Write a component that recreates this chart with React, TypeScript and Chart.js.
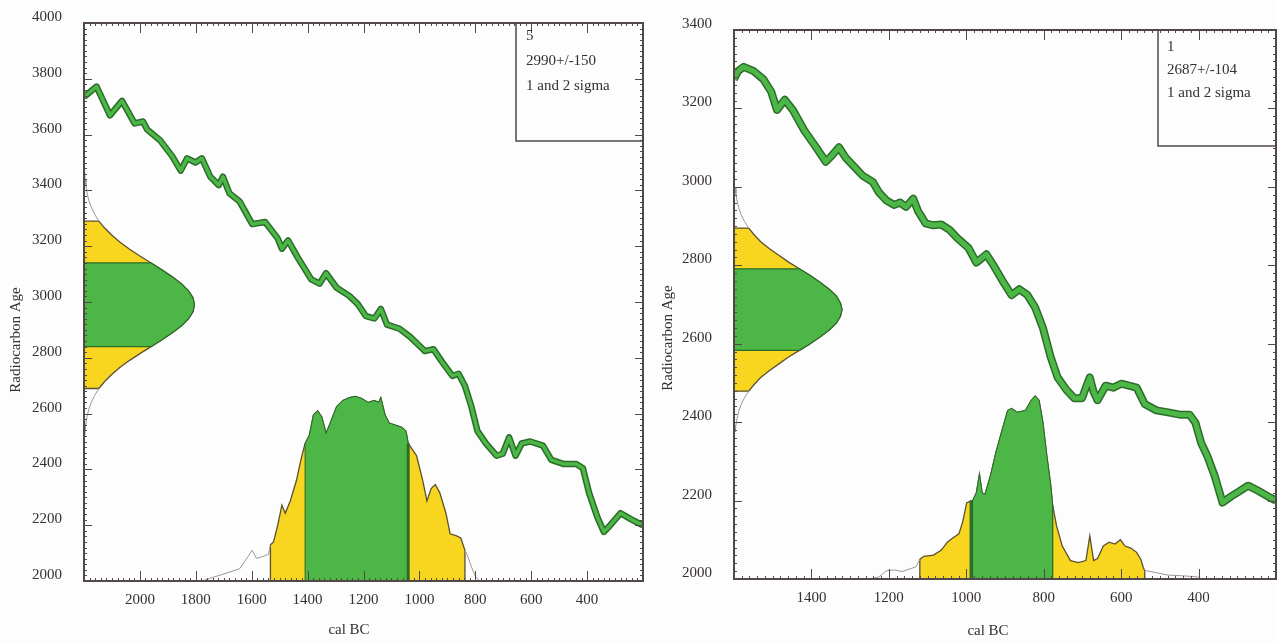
import React, { useEffect, useRef } from "react";
import { Chart, registerables } from "chart.js";

Chart.register(...registerables);

const FONT_FAMILY = "'Liberation Serif', 'Times New Roman', serif";
const TEXT_COLOR = "#363030";
const FRAME_COLOR = "#514848";
const GREEN = "#4cb646";
const DARK_GREEN = "#2b6c2b";
const YELLOW = "#f8d51e";
const OUTLINE = "#5a5032";
const GRAY = "#9c9696";

// ---------- Left panel: sample 5, 2990 +/- 150 ----------
const leftLegend = ["5", "2990+/-150", "1 and 2 sigma"];
const leftXLabels = [2000, 1800, 1600, 1400, 1200, 1000, 800, 600, 400];
const leftYLabels = [2000, 2200, 2400, 2600, 2800, 3000, 3200, 3400, 3600, 3800, 4000];

const leftCurveYears = [2200, 2155, 2107, 2064, 2019, 1989, 1974, 1929, 1884, 1854, 1831, 1801, 1778, 1748, 1718, 1703, 1680, 1643, 1598, 1552, 1507, 1492, 1470, 1432, 1387, 1357, 1334, 1296, 1251, 1221, 1191, 1161, 1138, 1116, 1071, 1033, 1003, 980, 950, 920, 882, 860, 837, 814, 792, 762, 724, 702, 679, 656, 634, 604, 558, 528, 483, 438, 415, 393, 363, 340, 318, 280, 242, 200];
const leftCurveAges = [3735, 3772, 3669, 3721, 3640, 3647, 3618, 3581, 3522, 3471, 3515, 3500, 3515, 3449, 3419, 3449, 3390, 3360, 3279, 3287, 3228, 3191, 3221, 3154, 3081, 3066, 3103, 3051, 3022, 2993, 2949, 2941, 2975, 2919, 2904, 2875, 2846, 2824, 2831, 2787, 2735, 2743, 2699, 2625, 2537, 2493, 2449, 2456, 2515, 2449, 2493, 2500, 2485, 2434, 2419, 2419, 2404, 2316, 2228, 2176, 2199, 2243, 2221, 2199];

const leftGaussAges = [3465, 3440, 3415, 3390, 3365, 3340, 3315, 3290, 3265, 3240, 3215, 3190, 3165, 3140, 3115, 3090, 3065, 3040, 3015, 2990, 2965, 2940, 2915, 2890, 2865, 2840, 2815, 2790, 2765, 2740, 2715, 2690, 2665, 2640, 2615, 2590, 2565, 2540, 2515];
const leftGaussX = [2197, 2196, 2193, 2189, 2183, 2174, 2162, 2147, 2126, 2101, 2072, 2038, 2000, 1960, 1921, 1884, 1851, 1826, 1810, 1805, 1810, 1826, 1851, 1884, 1921, 1960, 2000, 2038, 2072, 2101, 2126, 2147, 2162, 2174, 2183, 2189, 2193, 2196, 2197];
const leftGauss2Range = [2690, 3290];
const leftGauss1Range = [2840, 3140];

const leftProbYears = [1778, 1748, 1688, 1643, 1613, 1598, 1583, 1560, 1540, 1533, 1522, 1507, 1492, 1480, 1462, 1440, 1424, 1409, 1394, 1379, 1364, 1349, 1334, 1319, 1296, 1274, 1251, 1229, 1206, 1183, 1161, 1146, 1138, 1123, 1108, 1086, 1063, 1048, 1040, 1010, 988, 973, 958, 943, 927, 905, 890, 867, 852, 837, 830, 814, 799, 784];
const leftProbValues = [2000, 2010, 2029, 2044, 2088, 2110, 2081, 2088, 2096, 2130, 2140, 2199, 2272, 2243, 2287, 2360, 2434, 2493, 2522, 2596, 2610, 2588, 2529, 2566, 2625, 2647, 2657, 2662, 2654, 2640, 2647, 2640, 2657, 2596, 2566, 2559, 2551, 2537, 2493, 2449, 2360, 2287, 2331, 2346, 2316, 2243, 2169, 2162, 2154, 2110, 2096, 2051, 2015, 2000];
const leftProb2Range = [1533, 837];
const leftProb1Range = [1409, 1040];
const leftMarkLine = [1040, 2493];

// ---------- Right panel: sample 1, 2687 +/- 104 ----------
const rightLegend = ["1", "2687+/-104", "1 and 2 sigma"];
const rightXLabels = [1400, 1200, 1000, 800, 600, 400];
const rightYLabels = [2000, 2200, 2400, 2600, 2800, 3000, 3200, 3400];

const rightCurveYears = [1600, 1590, 1575, 1549, 1524, 1504, 1489, 1469, 1448, 1418, 1388, 1363, 1347, 1329, 1312, 1287, 1267, 1241, 1226, 1206, 1186, 1171, 1156, 1137, 1125, 1105, 1085, 1065, 1044, 1024, 994, 974, 948, 928, 903, 883, 863, 842, 822, 802, 782, 764, 741, 721, 701, 691, 681, 671, 661, 640, 620, 600, 580, 560, 539, 509, 479, 448, 423, 408, 393, 378, 358, 338, 317, 297, 272, 246, 216, 200];
const rightCurveAges = [3274, 3295, 3306, 3295, 3274, 3243, 3196, 3222, 3196, 3143, 3101, 3064, 3080, 3101, 3075, 3049, 3028, 3012, 2986, 2965, 2954, 2960, 2949, 2970, 2939, 2907, 2902, 2904, 2891, 2870, 2844, 2807, 2828, 2797, 2755, 2724, 2739, 2724, 2692, 2640, 2566, 2514, 2482, 2461, 2461, 2488, 2514, 2477, 2456, 2493, 2488, 2498, 2493, 2488, 2446, 2430, 2425, 2419, 2419, 2398, 2346, 2315, 2262, 2195, 2210, 2222, 2238, 2225, 2208, 2200];

const rightGaussAges = [2999, 2982, 2964, 2947, 2930, 2912, 2895, 2878, 2860, 2843, 2826, 2808, 2791, 2774, 2756, 2739, 2722, 2704, 2687, 2670, 2652, 2635, 2618, 2600, 2583, 2566, 2548, 2531, 2514, 2496, 2479, 2462, 2444, 2427, 2410, 2392, 2375];
const rightGaussX = [1597, 1595, 1592, 1588, 1582, 1573, 1562, 1548, 1531, 1509, 1485, 1459, 1431, 1403, 1377, 1354, 1336, 1325, 1321, 1325, 1336, 1354, 1377, 1403, 1431, 1459, 1485, 1509, 1531, 1548, 1562, 1573, 1582, 1588, 1592, 1595, 1597];
const rightGauss2Range = [2479, 2895];
const rightGauss1Range = [2583, 2791];

const rightProbYears = [1250, 1226, 1206, 1186, 1166, 1145, 1130, 1120, 1110, 1085, 1065, 1049, 1034, 1019, 1009, 999, 989, 984, 974, 966, 959, 952, 938, 923, 908, 893, 883, 868, 847, 832, 822, 812, 802, 792, 782, 777, 767, 752, 731, 711, 691, 681, 671, 661, 646, 631, 616, 602, 590, 575, 560, 549, 543, 539, 534, 509, 479, 438, 400, 393];
const rightProbValues = [2000, 2005, 2021, 2023, 2019, 2026, 2031, 2050, 2058, 2061, 2073, 2094, 2105, 2115, 2147, 2194, 2199, 2199, 2220, 2267, 2220, 2215, 2262, 2325, 2378, 2430, 2435, 2425, 2430, 2456, 2467, 2456, 2399, 2315, 2241, 2189, 2136, 2084, 2047, 2042, 2047, 2110, 2047, 2052, 2084, 2094, 2089, 2100, 2084, 2079, 2068, 2050, 2030, 2021, 2021, 2016, 2010, 2008, 2005, 2000];
const rightProb2Range = [1120, 539];
const rightProb1Range = [989, 777];
const rightMarkLine = [987, 2199];

type Pt = { x: number; y: number };

function pts(xs: number[], ys: number[]): Pt[] {
  return xs.map((x, i) => ({ x, y: ys[i] }));
}

function probRegion(xs: number[], ys: number[], range: number[], base: number): Pt[] {
  const [a, b] = range;
  const inner = pts(xs, ys).filter((p) => p.x <= a && p.x >= b);
  return [{ x: a, y: base }, ...inner, { x: b, y: base }];
}

function gaussRegion(ages: number[], xs: number[], range: number[], axisX: number): Pt[] {
  const [lo, hi] = range;
  const inner = pts(xs, ages).filter((p) => p.y >= lo && p.y <= hi);
  return [{ x: axisX, y: hi }, ...inner, { x: axisX, y: lo }];
}

type PanelProps = {
  left: number;
  width: number;
  padTop: number;
  padRight: number;
  yAxisWidth: number;
  xAxisHeight: number;
  xMin: number;
  xMax: number;
  yMin: number;
  yMax: number;
  xLabels: number[];
  yLabels: number[];
  curveYears: number[];
  curveAges: number[];
  gaussAges: number[];
  gaussX: number[];
  gauss1: number[];
  gauss2: number[];
  probYears: number[];
  probValues: number[];
  prob1: number[];
  prob2: number[];
  mark: number[];
  legend: string[];
  legendLeft: number;
  legendBottom: number;
  legendTextX: number;
  legendTextY: number[];
  yTitleX: number;
  yTitleY: number;
  xTitleX: number;
  xTitleY: number;
  bandOuter: number;
  bandInner: number;
  markWidth: number;
};

function zeroPadding(s: any) {
  s.paddingTop = 0;
  s.paddingBottom = 0;
  s.paddingLeft = 0;
  s.paddingRight = 0;
}

function Panel(p: PanelProps) {
  const ref = useRef<HTMLCanvasElement | null>(null);

  useEffect(() => {
    const canvas = ref.current;
    if (!canvas) return;

    const [a2, b2] = p.prob2;
    const [lo2, hi2] = p.gauss2;
    const all = pts(p.probYears, p.probValues);
    const gAll = pts(p.gaussX, p.gaussAges);
    const base = { pointRadius: 0, tension: 0, fill: false, borderWidth: 1 } as any;

    const datasets: any[] = [
      // calibration curve band (inner bright green)
      { ...base, data: pts(p.curveYears, p.curveAges), borderColor: GREEN, borderWidth: p.bandInner, order: 1, borderJoinStyle: "round" },
      // calibration curve band (dark edge)
      { ...base, data: pts(p.curveYears, p.curveAges), borderColor: DARK_GREEN, borderWidth: p.bandOuter, order: 2, borderJoinStyle: "round" },
      // dark 1-sigma marker line
      { ...base, data: [{ x: p.mark[0], y: p.yMin }, { x: p.mark[0], y: p.mark[1] }], borderColor: DARK_GREEN, borderWidth: p.markWidth, order: 3 },
      // tails (gray)
      { ...base, data: all.filter((q) => q.x >= a2), borderColor: GRAY, order: 4 },
      { ...base, data: all.filter((q) => q.x <= b2), borderColor: GRAY, order: 4 },
      { ...base, data: gAll.filter((q) => q.y >= hi2), borderColor: GRAY, order: 4 },
      { ...base, data: gAll.filter((q) => q.y <= lo2), borderColor: GRAY, order: 4 },
      // 1 sigma regions (green)
      { ...base, data: probRegion(p.probYears, p.probValues, p.prob1, p.yMin), fill: "shape", backgroundColor: GREEN, borderColor: DARK_GREEN, borderWidth: 1, order: 5 },
      { ...base, data: gaussRegion(p.gaussAges, p.gaussX, p.gauss1, p.xMax), fill: "shape", backgroundColor: GREEN, borderColor: DARK_GREEN, borderWidth: 1.2, order: 5 },
      // 2 sigma regions (yellow with outline)
      { ...base, data: probRegion(p.probYears, p.probValues, p.prob2, p.yMin), fill: "shape", backgroundColor: YELLOW, borderColor: OUTLINE, borderWidth: 1.3, order: 6 },
      { ...base, data: gaussRegion(p.gaussAges, p.gaussX, p.gauss2, p.xMax), fill: "shape", backgroundColor: YELLOW, borderColor: OUTLINE, borderWidth: 1.3, order: 6 },
    ];

    const font = { family: FONT_FAMILY, size: 15 };

    const decor = {
      id: "decor",
      afterDatasetsDraw(chart: any) {
        const { ctx, chartArea } = chart;
        const xs = chart.scales.x;
        const ys = chart.scales.y;
        const { left, right, top, bottom } = chartArea;
        ctx.save();
        ctx.strokeStyle = FRAME_COLOR;
        ctx.lineWidth = 1;
        ctx.beginPath();
        for (let v = p.xMin; v <= p.xMax; v += 20) {
          const px = Math.round(xs.getPixelForValue(v)) + 0.5;
          const len = v % 200 === 0 ? 10 : 3;
          ctx.moveTo(px, bottom);
          ctx.lineTo(px, bottom - len);
          ctx.moveTo(px, top);
          ctx.lineTo(px, top + len);
        }
        for (let v = p.yMin; v <= p.yMax; v += 20) {
          const py = Math.round(ys.getPixelForValue(v)) + 0.5;
          const len = v % 200 === 0 ? 8 : 3;
          ctx.moveTo(left, py);
          ctx.lineTo(left + len, py);
          ctx.moveTo(right, py);
          ctx.lineTo(right - len, py);
        }
        ctx.stroke();
        ctx.lineWidth = 2;
        ctx.strokeRect(left, top, right - left, bottom - top);

        // legend box
        ctx.lineWidth = 1.5;
        ctx.strokeRect(p.legendLeft, top, right - p.legendLeft, p.legendBottom - top);
        ctx.fillStyle = TEXT_COLOR;
        ctx.font = `15px ${FONT_FAMILY}`;
        ctx.textAlign = "left";
        ctx.textBaseline = "middle";
        p.legend.forEach((s, i) => ctx.fillText(s, p.legendTextX, p.legendTextY[i]));

        // axis titles
        ctx.textAlign = "center";
        ctx.fillText("cal BC", p.xTitleX, p.xTitleY);
        ctx.translate(p.yTitleX, p.yTitleY);
        ctx.rotate(-Math.PI / 2);
        ctx.fillText("Radiocarbon Age", 0, 0);
        ctx.restore();
      },
    };

    const chart = new Chart(canvas, {
      type: "line",
      data: { datasets },
      options: {
        animation: false,
        responsive: false,
        events: [],
        layout: { padding: { top: p.padTop, right: p.padRight, left: 0, bottom: 0 } },
        plugins: { legend: { display: false }, tooltip: { enabled: false }, title: { display: false } },
        scales: {
          x: {
            type: "linear",
            reverse: true,
            min: p.xMin,
            max: p.xMax,
            grid: { display: false, drawTicks: false },
            border: { display: false },
            ticks: {
              stepSize: 200,
              autoSkip: false,
              maxRotation: 0,
              padding: 10,
              color: TEXT_COLOR,
              font,
              callback: (v: any) => (p.xLabels.includes(Number(v)) ? String(v) : ""),
            },
            afterFit: (s: any) => {
              s.height = p.xAxisHeight;
              zeroPadding(s);
            },
          },
          y: {
            type: "linear",
            min: p.yMin,
            max: p.yMax,
            grid: { display: false, drawTicks: false },
            border: { display: false },
            ticks: {
              stepSize: 200,
              autoSkip: false,
              padding: 22,
              labelOffset: -6,
              color: TEXT_COLOR,
              font,
              callback: (v: any) => (p.yLabels.includes(Number(v)) ? String(v) : ""),
            },
            afterFit: (s: any) => {
              s.width = p.yAxisWidth;
              zeroPadding(s);
            },
          },
        },
      } as any,
      plugins: [decor],
    });

    return () => chart.destroy();
  }, []);

  return (
    <canvas
      ref={ref}
      width={p.width}
      height={643}
      style={{ position: "absolute", left: p.left, top: 0, width: p.width, height: 643 }}
    />
  );
}

export default function App() {
  return (
    <div
      style={{
        position: "fixed",
        left: 0,
        top: 0,
        width: 1277,
        height: 643,
        overflow: "hidden",
        background: "#fdfdfd",
      }}
    >
      <Panel
        left={0}
        width={660}
        padTop={23}
        padRight={17}
        yAxisWidth={84}
        xAxisHeight={62}
        xMin={200}
        xMax={2200}
        yMin={2000}
        yMax={4000}
        xLabels={leftXLabels}
        yLabels={leftYLabels}
        curveYears={leftCurveYears}
        curveAges={leftCurveAges}
        gaussAges={leftGaussAges}
        gaussX={leftGaussX}
        gauss1={leftGauss1Range}
        gauss2={leftGauss2Range}
        probYears={leftProbYears}
        probValues={leftProbValues}
        prob1={leftProb1Range}
        prob2={leftProb2Range}
        mark={leftMarkLine}
        legend={leftLegend}
        legendLeft={516}
        legendBottom={141}
        legendTextX={526}
        legendTextY={[36, 61, 86]}
        yTitleX={16}
        yTitleY={340}
        xTitleX={349}
        xTitleY={630}
        bandOuter={6.5}
        bandInner={3.5}
        markWidth={3}
      />
      <Panel
        left={660}
        width={617}
        padTop={30}
        padRight={1}
        yAxisWidth={74}
        xAxisHeight={64}
        xMin={200}
        xMax={1600}
        yMin={2000}
        yMax={3400}
        xLabels={rightXLabels}
        yLabels={rightYLabels}
        curveYears={rightCurveYears}
        curveAges={rightCurveAges}
        gaussAges={rightGaussAges}
        gaussX={rightGaussX}
        gauss1={rightGauss1Range}
        gauss2={rightGauss2Range}
        probYears={rightProbYears}
        probValues={rightProbValues}
        prob1={rightProb1Range}
        prob2={rightProb2Range}
        mark={rightMarkLine}
        legend={rightLegend}
        legendLeft={498}
        legendBottom={146}
        legendTextX={507}
        legendTextY={[47, 70, 93]}
        yTitleX={8}
        yTitleY={338}
        xTitleX={328}
        xTitleY={631}
        bandOuter={8}
        bandInner={5}
        markWidth={3.5}
      />
    </div>
  );
}
